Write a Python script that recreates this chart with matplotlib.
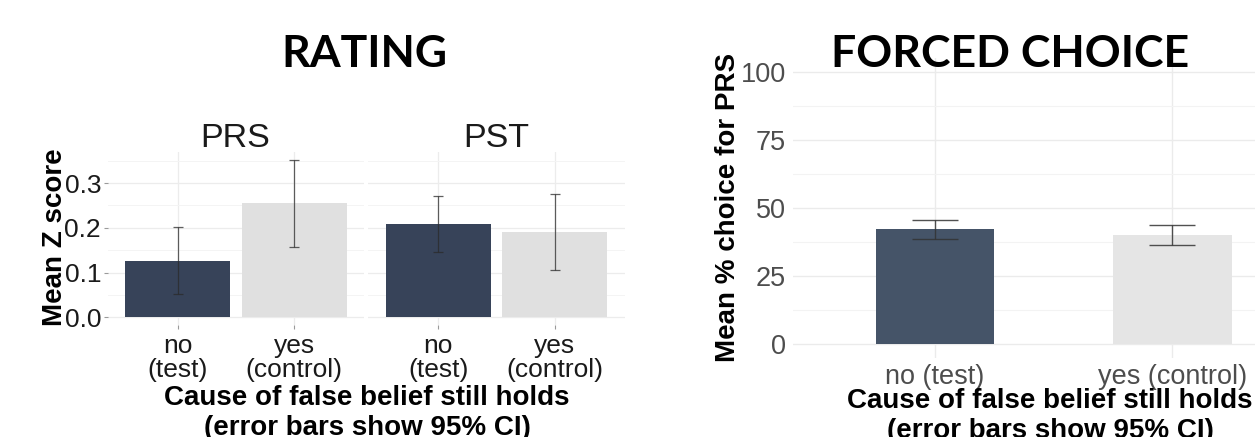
import matplotlib
matplotlib.use("Agg")
import matplotlib.pyplot as plt
import numpy as np

# ---------------- data ----------------
rating_groups = ["PRS", "PST"]
rating_categories = ["no\n(test)", "yes\n(control)"]
prs_means = [0.126, 0.256]
prs_ci_low = [0.052, 0.156]
prs_ci_high = [0.201, 0.352]
pst_means = [0.208, 0.191]
pst_ci_low = [0.147, 0.105]
pst_ci_high = [0.270, 0.275]

fc_categories = ["no (test)", "yes (control)"]
fc_means = [42.3, 40.1]
fc_ci_low = [38.6, 36.3]
fc_ci_high = [45.6, 43.75]

rating_yticks = [0.0, 0.1, 0.2, 0.3]
rating_yticklabels = ["0.0", "0.1", "0.2", "0.3"]
fc_yticks = [0, 25, 50, 75, 100]
fc_yticklabels = ["0", "25", "50", "75", "100"]

# ---------------- styling ----------------
W, H = 1255, 437
DPI = 100
SANS = ["Liberation Sans", "DejaVu Sans"]
TITLE_FONT = ["Lato", "DejaVu Sans"]

plt.rcParams["font.family"] = SANS

fig = plt.figure(figsize=(W / DPI, H / DPI), dpi=DPI)
fig.patch.set_facecolor("white")


def add_ax(x0, y0, x1, y1):
    return fig.add_axes([x0 / W, 1 - y1 / H, (x1 - x0) / W, (y1 - y0) / H])


def fx(px):
    return px / W


def fy(py):
    return 1 - py / H


left_dark = "#374359"
left_light = "#e0e0e0"
right_dark = "#455468"
right_light = "#e5e5e5"

# ---------------- RATING facets ----------------
panels = [
    (108, 364, prs_means, prs_ci_low, prs_ci_high, rating_groups[0], 235.5),
    (368, 625, pst_means, pst_ci_low, pst_ci_high, rating_groups[1], 496.7),
]
for i, (x0, x1, means, lo, hi, name, cx) in enumerate(panels):
    ax = add_ax(x0, 151.8, x1, 325.2)
    ax.set_xlim(0.4, 2.6)
    ax.set_ylim(-0.0176, 0.3697)
    ax.set_axisbelow(True)
    ax.set_yticks(rating_yticks)
    ax.set_yticks([0.05, 0.15, 0.25, 0.35], minor=True)
    ax.set_xticks([1, 2])
    ax.grid(True, which="major", color="#ececec", linewidth=0.9)
    ax.grid(True, which="minor", axis="y", color="#f4f4f4", linewidth=0.7)
    for s in ax.spines.values():
        s.set_visible(False)
    xs = np.arange(1, len(means) + 1)
    ax.bar(xs, means, width=0.9, color=[left_dark, left_light], zorder=2)
    yerr = [np.array(means) - np.array(lo), np.array(hi) - np.array(means)]
    ax.errorbar(xs, means, yerr=yerr, fmt="none", ecolor="#2a2a2a", alpha=0.75,
                elinewidth=0.9, capsize=3.6, capthick=0.9, zorder=3)
    ax.set_xticklabels(rating_categories, fontsize=19, color="#1a1a1a",
                       linespacing=1.05)
    ax.tick_params(axis="x", which="major", length=3, width=0.8, color="#9a9a9a",
                   pad=3)
    ax.tick_params(axis="y", which="minor", length=0)
    if i == 0:
        ax.set_yticklabels(rating_yticklabels, fontsize=19, color="#1a1a1a")
        ax.tick_params(axis="y", which="major", length=3, width=0.8,
                       color="#9a9a9a", pad=2)
    else:
        ax.tick_params(axis="y", which="major", length=0, labelleft=False)
    fig.text(fx(cx), fy(146.7), name, fontsize=24.5, color="#1a1a1a",
             ha="center", va="baseline")

fig.text(fx(61.7), fy(237.5), "Mean Z score", fontsize=20, fontweight="bold",
         rotation=90, rotation_mode="anchor", ha="center", va="baseline")
fig.text(fx(367), fy(385), "Cause of false belief still holds\n(error bars show 95% CI)",
         fontsize=20, fontweight="bold", ha="center", va="top", linespacing=1.2)
fig.text(fx(364.5), fy(66.7), "RATING", fontsize=32, fontweight="bold",
         family=TITLE_FONT, ha="center", va="baseline")

# ---------------- FORCED CHOICE ----------------
ax = add_ax(792.6, 58.4, 1314.7, 357.6)
ax.set_xlim(0.4, 2.6)
ax.set_ylim(-5, 105)
ax.set_axisbelow(True)
ax.set_yticks(fc_yticks)
ax.set_yticks([12.5, 37.5, 62.5, 87.5], minor=True)
ax.set_xticks([1, 2])
ax.grid(True, which="major", color="#ebebeb", linewidth=1.0)
ax.grid(True, which="minor", axis="y", color="#f3f3f3", linewidth=0.8)
for s in ax.spines.values():
    s.set_visible(False)
xs = np.arange(1, len(fc_means) + 1)
ax.bar(xs, fc_means, width=0.5, color=[right_dark, right_light], zorder=2)
yerr = [np.array(fc_means) - np.array(fc_ci_low), np.array(fc_ci_high) - np.array(fc_means)]
ax.errorbar(xs, fc_means, yerr=yerr, fmt="none", ecolor="#333333", alpha=0.85,
            elinewidth=1.0, capsize=16.9, capthick=1.0, zorder=3)
ax.set_xticklabels(fc_categories, fontsize=19.5, color="#4d4d4d")
ax.set_yticklabels(fc_yticklabels, fontsize=19.5, color="#4d4d4d")
ax.tick_params(axis="both", which="both", length=0)
ax.tick_params(axis="x", pad=4.5)
ax.tick_params(axis="y", pad=4.8)

fig.text(fx(735), fy(207.5), "Mean % choice for PRS", fontsize=20, fontweight="bold",
         rotation=90, rotation_mode="anchor", ha="center", va="baseline")
fig.text(fx(1050), fy(388), "Cause of false belief still holds\n(error bars show 95% CI)",
         fontsize=20, fontweight="bold", ha="center", va="top", linespacing=1.2)
fig.text(fx(1010.5), fy(66.7), "FORCED CHOICE", fontsize=32, fontweight="bold",
         family=TITLE_FONT, ha="center", va="baseline")

fig.savefig("out.png", dpi=DPI)
